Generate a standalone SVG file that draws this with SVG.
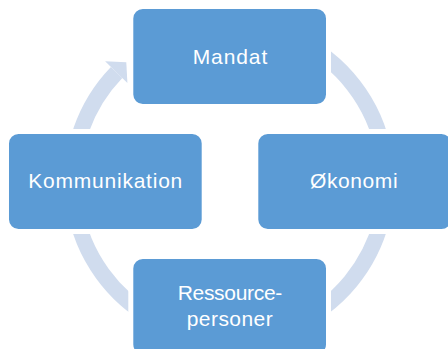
<svg xmlns="http://www.w3.org/2000/svg" width="448" height="349" viewBox="0 0 448 349">
<style>
.node rect{fill:#5B9BD5;stroke:#FFFFFF;stroke-width:5}
.node text{fill:#FFFFFF;font-family:"Liberation Sans",Arial,sans-serif;font-size:21px;text-anchor:middle}
.ring{fill:none;stroke:#D0DCEE;stroke-width:15.8}
.head{fill:#D0DCEE}
</style>
<rect width="448" height="349" fill="#FFFFFF"/>
<g id="connectors">
<path class="ring" d="M 229.5 24.5 A 157 157 0 1 1 116.6 72.4"/>
<polygon class="head" points="105.1,61.3 126.3,62.3 127.4,82.9"/>
</g>
<g id="mandat" class="node">
<rect x="130.8" y="6.5" width="197.7" height="100" rx="12"/>
<text x="230" y="64.3" textLength="74.6">Mandat</text>
</g>
<g id="okonomi" class="node">
<rect x="255.8" y="131.5" width="197.7" height="100" rx="12"/>
<text x="353.8" y="188.3" textLength="87.7">Økonomi</text>
</g>
<g id="ressourcepersoner" class="node">
<rect x="130.8" y="256.5" width="197.7" height="100" rx="12"/>
<text x="230" y="300" textLength="104.6">Ressource-</text>
<text x="229.7" y="325.5" textLength="86">personer</text>
</g>
<g id="kommunikation" class="node">
<rect x="6.5" y="131.5" width="197.7" height="100" rx="12"/>
<text x="105.3" y="188.3" textLength="154">Kommunikation</text>
</g>
</svg>
